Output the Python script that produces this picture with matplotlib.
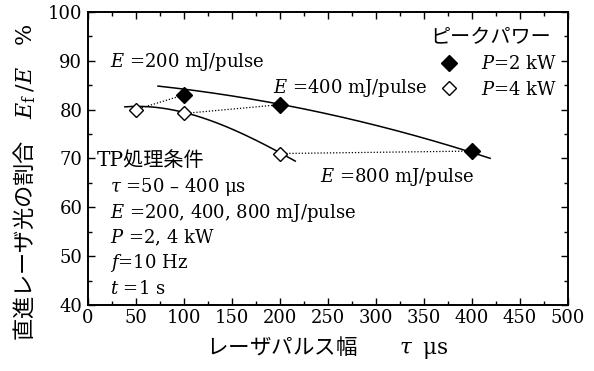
import matplotlib
matplotlib.use("Agg")
import matplotlib.pyplot as plt
import numpy as np
from matplotlib.font_manager import FontProperties

plt.rcParams['font.family'] = ['DejaVu Serif', 'Noto Sans CJK JP']
plt.rcParams['mathtext.fontset'] = 'dejavuserif'
plt.rcParams['font.size'] = 13

JP = 'Noto Sans CJK JP'

# measured points
tau_2kw = [100, 200, 400]
ratio_2kw = [83.0, 81.0, 71.5]
tau_4kw = [50, 100, 200]
ratio_4kw = [80.0, 79.2, 71.0]

# same pulse energy pairs (4 kW point, 2 kW point)
energy_pairs = [(0, 0), (1, 1), (2, 2)]
energy_labels = ['$E$ =200 mJ/pulse', '$E$ =400 mJ/pulse', '$E$ =800 mJ/pulse']

# trend curves, points
trend_2kw_x = [73, 100, 200, 304, 400, 419]
trend_2kw_y = [84.8, 84.2, 81.1, 76.5, 71.5, 69.8]
trend_4kw_x = [38.5, 50, 100, 200, 216]
trend_4kw_y = [80.7, 80.45, 79.5, 71.1, 69.5]

conditions = ['$\\tau$ =50 \u2013 400 \u03bcs',
              '$E$ =200, 400, 800 mJ/pulse',
              '$P$ =2, 4 kW',
              '$f$=10 Hz',
              '$t$ =1 s']

fig = plt.figure(figsize=(5.94, 3.71), dpi=100)
ax = fig.add_axes([0.148, 0.178, 0.808, 0.79])

for xs, ys, deg in [(trend_2kw_x, trend_2kw_y, 2), (trend_4kw_x, trend_4kw_y, 3)]:
    c = np.polyfit(xs, ys, deg)
    xx = np.linspace(min(xs), max(xs), 200)
    ax.plot(xx, np.polyval(c, xx), color='black', lw=1.1, zorder=2)

for i4, i2 in energy_pairs:
    ax.plot([tau_4kw[i4], tau_2kw[i2]], [ratio_4kw[i4], ratio_2kw[i2]],
            color='black', ls=(0, (1, 1.5)), lw=0.9, zorder=1)

h2, = ax.plot(tau_2kw, ratio_2kw, 'D', ms=8, color='black', ls='none',
              zorder=3, label='$P$=2 kW')
h4, = ax.plot(tau_4kw, ratio_4kw, 'D', ms=7.5, mfc='white', mec='black',
              mew=1.0, ls='none', zorder=3, label='$P$=4 kW')

ax.text(23, 89.8, energy_labels[0], va='center')
ax.text(193, 84.4, energy_labels[1], va='center')
ax.text(242, 66.1, energy_labels[2], va='center')

ax.text(9, 69.6, 'TP処理条件', va='center', family=['DejaVu Serif', JP], size=14.5)
for k, s in enumerate(conditions):
    ax.text(23, 64.1 - 5.2 * k, s, va='center')

leg = ax.legend(handles=[h2, h4], title='ピークパワー', loc='upper right',
                bbox_to_anchor=(0.985, 0.96), frameon=False, alignment='right',
                handlelength=1.0, handletextpad=1.3, labelspacing=0.4,
                borderpad=0.2, borderaxespad=0.0,
                title_fontproperties=FontProperties(family=JP, size=14.5))
leg._legend_title_box._text.set_x(-6)

ax.set_xlim(0, 500)
ax.set_ylim(40, 100)
ax.set_xticks(np.arange(0, 501, 50))
ax.set_xticks(np.arange(0, 501, 25), minor=True)
ax.set_yticks(np.arange(40, 101, 10))
ax.set_yticks(np.arange(40, 101, 5), minor=True)
ax.tick_params(which='both', direction='in', top=True, right=True, width=1.0)
ax.tick_params(which='major', length=5, pad=4)
ax.tick_params(which='minor', length=3)
ax.tick_params(axis='x', pad=3)
for sp in ax.spines.values():
    sp.set_linewidth(1.4)

ax.set_xlabel('レーザパルス幅　　$\\tau\\;\\;\\mathrm{\\mu s}$',
              family=JP, size=15.5, labelpad=5)
ax.set_ylabel('直進レーザ光の割合　$E_\\mathrm{f}$ $/E$　$\\%$',
              family=JP, size=16)
ax.yaxis.set_label_coords(-0.105, 0.42)

fig.savefig('out.png', dpi=100)
